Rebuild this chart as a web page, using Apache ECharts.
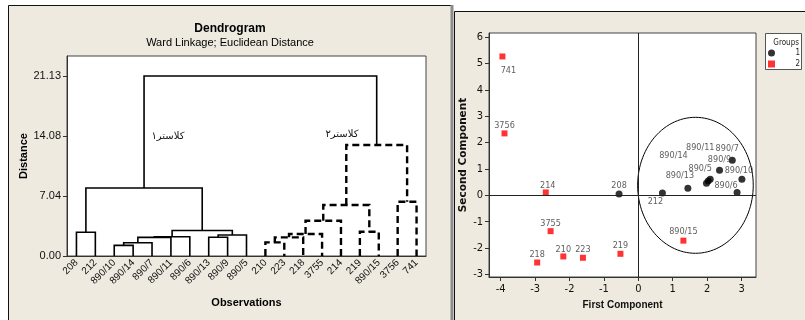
<!DOCTYPE html>
<html>
<head>
<meta charset="utf-8">
<script src="https://cdn.jsdelivr.net/npm/echarts@6/dist/echarts.min.js"></script>
<style>html,body{margin:0;padding:0;background:#fff}#c{width:805px;height:320px}</style>
</head>
<body>
<div id="c"></div>
<script>
// ---------- Dendrogram data ----------
const leafLabels = ['208','212','890/10','890/14','890/7','890/11','890/6','890/13','890/9','890/5',
  '210','223','218','3755','214','219','890/15','3756','741'];
// merges: node ids 0..18 are leaves, 19+k is merge k
const mergeLeft   = [2, 19, 20, 21, 7, 23, 22, 0, 26, 10, 28, 29, 30, 15, 31, 17, 33, 27];
const mergeRight  = [3, 4, 5, 6, 8, 9, 24, 1, 25, 11, 12, 13, 14, 16, 32, 18, 34, 35];
const mergeHeight = [1.25, 1.56, 2.19, 2.26, 2.20, 2.47, 2.99, 2.78, 7.98, 1.60, 2.19, 2.58, 4.14, 2.85, 5.98, 6.37, 13.02, 21.13];
const mergeCluster = [1, 1, 1, 1, 1, 1, 1, 1, 1, 2, 2, 2, 2, 2, 2, 2, 2, 0];
const distanceTicks = [0, 7.04, 14.08, 21.13];
const clusterNames = ['کلاستر۱', 'کلاستر۲'];

// ---------- PCA scatter data ----------
const pointNames = ['741','3756','214','3755','218','210','223','219','208','212',
  '890/13','890/14','890/5','890/11','890/9','890/7','890/10','890/6','890/15'];
const firstComp  = [-3.95, -3.89, -2.69, -2.55, -2.94, -2.18, -1.61, -0.52, -0.56, 0.70,
  1.44, 1.98, 2.03, 2.09, 2.36, 2.73, 3.01, 2.87, 1.31];
const secondComp = [5.27, 2.35, 0.11, -1.36, -2.55, -2.32, -2.37, -2.22, 0.05, 0.09,
  0.27, 0.46, 0.54, 0.61, 0.95, 1.33, 0.61, 0.11, -1.72];
const pointGroup = [2, 2, 2, 2, 2, 2, 2, 2, 1, 1, 1, 1, 1, 1, 1, 1, 1, 1, 2];
const groupNames = ['1', '2'];
const xTicks = [-4, -3, -2, -1, 0, 1, 2, 3];
const yTicks = [-3, -2, -1, 0, 1, 2, 3, 4, 5, 6];
// group-1 ellipse: centre (x, y) and half-axes (x, y) in data units
const ellipseCentre = [1.66, 0.38];
const ellipseHalfAxes = [1.68, 2.58];

// ---------- styling helpers (label placement in px) ----------
const labelOffset = {
  '741':[6,14],'3756':[0,-8],'214':[2,-7],'208':[0,-8],'212':[-7,9],'890/13':[-8,-13],
  '890/5':[-8,-12],'890/14':[-33,-28],'890/11':[-10,-32],'890/7':[-5,-12],'890/9':[0,-11],
  '890/10':[-3,-9],'890/6':[-11,-7],'890/15':[0,-9],'3755':[0,-7],'210':[0,-7],'223':[0,-8],
  '219':[0,-8],'218':[0,-8]
};
const clusterLabelPos = [[4.84, 14.08], [14.05, 14.3]];

const FONT = '"Liberation Sans", Arial, sans-serif';
const NARROW = '"Liberation Sans Narrow", "DejaVu Sans Condensed", "Liberation Sans", sans-serif';
const BEIGE = '#EEEAE0';

// build dendrogram links
const nLeaf = leafLabels.length;
const nodeX = [], nodeH = [];
for (let i = 0; i < nLeaf; i++) { nodeX[i] = i; nodeH[i] = 0; }
const linkData = [];
for (let k = 0; k < mergeHeight.length; k++) {
  const l = mergeLeft[k], r = mergeRight[k];
  nodeX[nLeaf + k] = (nodeX[l] + nodeX[r]) / 2;
  nodeH[nLeaf + k] = mergeHeight[k];
  linkData.push([nodeX[l], nodeH[l], nodeX[r], nodeH[r], mergeHeight[k], mergeCluster[k]]);
}

function pointsOfGroup(g) {
  const out = [];
  for (let i = 0; i < pointNames.length; i++) {
    if (pointGroup[i] !== g) continue;
    out.push({ name: pointNames[i], value: [firstComp[i], secondComp[i]],
      label: { offset: labelOffset[pointNames[i]] || [0, -8] } });
  }
  return out;
}

const chart = echarts.init(document.getElementById('c'), null, { renderer: 'canvas' });
const axisDark = { onZero: false, lineStyle: { color: '#333', width: 1 } };

const option = {
  animation: false,
  backgroundColor: '#fff',
  graphic: [
    { type: 'rect', z: -100, shape: { x: 8.5, y: 5.5, width: 443, height: 320 },
      style: { fill: BEIGE, stroke: '#111', lineWidth: 1 } },
    { type: 'rect', z: -100, shape: { x: 454.5, y: 11.5, width: 360, height: 320 },
      style: { fill: BEIGE, stroke: '#111', lineWidth: 1 } },
    { type: 'rect', z: -99, shape: { x: 450.5, y: 5, width: 3, height: 320 },
      style: { fill: '#8c8c8c', stroke: null } },
    { type: 'text', x: 230, y: 29, style: { text: 'Dendrogram', font: 'bold 12px ' + FONT,
      fill: '#000', align: 'center', verticalAlign: 'middle', textAlign: 'center', textVerticalAlign: 'middle' } },
    { type: 'text', x: 230, y: 43, style: { text: 'Ward Linkage; Euclidean Distance', font: '11px ' + FONT,
      fill: '#000', align: 'center', verticalAlign: 'middle', textAlign: 'center', textVerticalAlign: 'middle' } },
    { type: 'rect', shape: { x: 765.5, y: 33.5, width: 36, height: 36 },
      style: { fill: '#fff', stroke: '#555', lineWidth: 1 } },
    { type: 'text', x: 799, y: 43, style: { text: 'Groups', font: '8px ' + NARROW,
      fill: '#222', align: 'right', verticalAlign: 'middle', textAlign: 'right', textVerticalAlign: 'middle' } }
  ],
  legend: {
    data: groupNames, orient: 'vertical', left: 768, top: 49, itemWidth: 7, itemHeight: 7, itemGap: 3,
    padding: 0,
    formatter: n => '{a|' + n + '}',
    textStyle: { fontSize: 8, fontFamily: NARROW, color: '#222',
      rich: { a: { width: 20, align: 'right', fontSize: 8, fontFamily: NARROW } } }
  },
  grid: [
    { left: 67, top: 56, width: 359, height: 200, show: true, backgroundColor: '#fff',
      borderColor: '#444', borderWidth: 1 },
    { left: 489, top: 33, width: 267, height: 244, show: true, backgroundColor: '#fff',
      borderColor: '#444', borderWidth: 1 }
  ],
  xAxis: [
    { type: 'category', gridIndex: 0, data: leafLabels, boundaryGap: true,
      axisLine: axisDark, axisTick: { alignWithLabel: true, length: 4, lineStyle: { color: '#333' } },
      axisLabel: { rotate: 45, fontSize: 10, fontFamily: FONT, color: '#111', margin: 5, interval: 0 },
      name: 'Observations', nameLocation: 'middle', nameGap: 41,
      nameTextStyle: { fontWeight: 'bold', fontSize: 11, fontFamily: FONT, color: '#000' } },
    { type: 'value', gridIndex: 0, min: -0.5, max: nLeaf - 0.5, show: false },
    { type: 'value', gridIndex: 1, min: -4.34, max: 3.42,
      axisLine: { onZero: false, lineStyle: { color: '#333' } },
      axisTick: { customValues: xTicks, length: 4, lineStyle: { color: '#333' } },
      axisLabel: { customValues: xTicks, fontSize: 11, fontFamily: NARROW, color: '#111', margin: 7 },
      splitLine: { show: false },
      name: 'First Component', nameLocation: 'middle', nameGap: 20,
      nameTextStyle: { fontWeight: 'bold', fontSize: 10, fontFamily: FONT, color: '#111' } }
  ],
  yAxis: [
    { type: 'value', gridIndex: 0, min: 0, max: 23.47,
      axisLine: { show: true, onZero: false, lineStyle: { color: '#333' } },
      axisTick: { show: true, customValues: distanceTicks, length: 4, lineStyle: { color: '#333' } },
      axisLabel: { customValues: distanceTicks, formatter: v => v.toFixed(2), fontSize: 11,
        fontFamily: FONT, color: '#111', margin: 6 },
      splitLine: { show: false },
      name: 'Distance', nameLocation: 'middle', nameGap: 38,
      nameTextStyle: { fontWeight: 'bold', fontSize: 11, fontFamily: FONT, color: '#000' } },
    { type: 'value', gridIndex: 1, min: -3.1, max: 6.16,
      axisLine: { show: true, onZero: false, lineStyle: { color: '#333' } },
      axisTick: { show: true, customValues: yTicks, length: 4, lineStyle: { color: '#333' } },
      axisLabel: { customValues: yTicks, fontSize: 11, fontFamily: NARROW, color: '#111', margin: 6 },
      splitLine: { show: false },
      name: 'Second Component', nameLocation: 'middle', nameGap: 18,
      nameTextStyle: { fontWeight: 'bold', fontSize: 10.5, fontFamily: '"DejaVu Sans", sans-serif', color: '#111' } }
  ],
  series: [
    {
      type: 'custom', name: 'dendrogram', xAxisIndex: 1, yAxisIndex: 0, silent: true,
      data: linkData,
      renderItem: function (params, api) {
        const x1 = api.value(0), h1 = api.value(1), x2 = api.value(2), h2 = api.value(3), h = api.value(4);
        const dashed = api.value(5) === 2;
        const pts = [api.coord([x1, h1]), api.coord([x1, h]), api.coord([x2, h]), api.coord([x2, h2])];
        return { type: 'polyline', shape: { points: pts },
          style: { stroke: '#000', fill: null, lineWidth: dashed ? 2.4 : 1.6,
            lineDash: dashed ? [7, 4] : null, lineJoin: 'miter' } };
      }
    },
    {
      type: 'custom', name: 'clusterText', xAxisIndex: 1, yAxisIndex: 0, silent: true,
      data: clusterLabelPos.map((p, i) => [p[0], p[1], i]),
      renderItem: function (params, api) {
        const c = api.coord([api.value(0), api.value(1)]);
        return { type: 'text', x: c[0], y: c[1],
          style: { text: clusterNames[api.value(2)], font: '10px "DejaVu Sans", sans-serif', fill: '#111',
            align: 'center', verticalAlign: 'middle', textAlign: 'center', textVerticalAlign: 'middle' } };
      }
    },
    {
      type: 'custom', name: 'ellipse', xAxisIndex: 2, yAxisIndex: 1, silent: true,
      data: [[ellipseCentre[0], ellipseCentre[1], ellipseHalfAxes[0], ellipseHalfAxes[1]]],
      renderItem: function (params, api) {
        const cx = api.value(0), cy = api.value(1), rx = api.value(2), ry = api.value(3);
        const pts = [];
        for (let t = 0; t < 120; t++) {
          const a = t / 120 * Math.PI * 2;
          pts.push(api.coord([cx + rx * Math.cos(a), cy + ry * Math.sin(a)]));
        }
        return { type: 'polygon', shape: { points: pts },
          style: { stroke: '#000', fill: null, lineWidth: 1 } };
      }
    },
    {
      type: 'scatter', name: '1', xAxisIndex: 2, yAxisIndex: 1,
      symbol: 'circle', symbolSize: 7, itemStyle: { color: '#000' },
      data: pointsOfGroup(1),
      label: { show: true, formatter: '{b}', position: 'inside', fontSize: 9, fontFamily: NARROW, color: '#333' },
      markLine: { silent: true, symbol: ['none', 'none'], label: { show: false },
        lineStyle: { color: '#222', width: 1, type: 'solid' },
        data: [{ xAxis: 0 }, { yAxis: 0 }] }
    },
    {
      type: 'scatter', name: '2', xAxisIndex: 2, yAxisIndex: 1,
      symbol: 'rect', symbolSize: 6, itemStyle: { color: '#FF0000' },
      data: pointsOfGroup(2),
      label: { show: true, formatter: '{b}', position: 'inside', fontSize: 9, fontFamily: NARROW, color: '#333' }
    }
  ]
};
chart.setOption(option);
</script>
</body>
</html>
